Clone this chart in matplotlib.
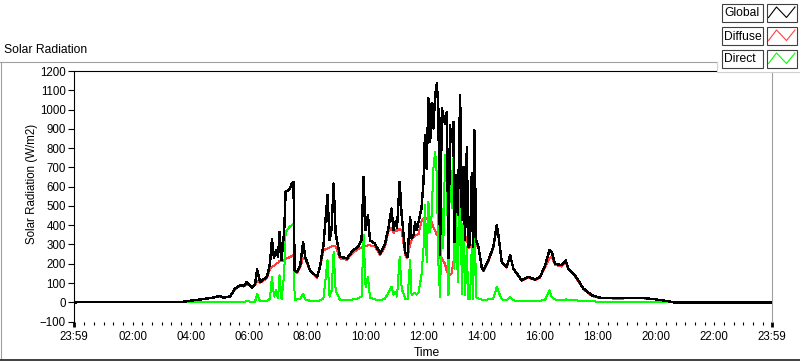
import numpy as np
import matplotlib.pyplot as plt
from matplotlib.patches import Rectangle

plt.rcParams['font.family'] = ['Liberation Sans', 'DejaVu Sans']

nan = np.nan

# time of day in hours (-1/60 = 23:59 of the day before, 23.983 = 23:59)
hours = [-0.0167, 3.73, 4.32, 4.76, 5.00, 5.11, 5.35, 5.52, 5.69, 5.83, 5.93,
         6.10, 6.21, 6.28, 6.38, 6.62, 6.72, 6.79, 6.86, 6.93, 7.00, 7.05,
         7.12, 7.21, 7.26, 7.34, 7.41, 7.48, 7.53, 7.57, 7.65, 7.76, 7.86,
         7.93, 8.10, 8.34, 8.44, 8.56, 8.70, 8.77, 8.84, 8.91, 8.98, 9.13,
         9.37, 9.58, 9.75, 9.87, 9.94, 10.01, 10.09, 10.16, 10.33, 10.51,
         10.68, 10.80, 10.90, 10.97, 11.04, 11.09, 11.18, 11.25, 11.37, 11.45,
         11.54, 11.59, 11.66, 11.71, 11.76, 11.83, 11.93, 12.00, 12.05, 12.11,
         12.17, 12.23, 12.28, 12.34, 12.40, 12.46, 12.51, 12.57, 12.63, 12.68,
         12.74, 12.80, 12.86, 12.91, 12.97, 13.03, 13.06, 13.12, 13.18, 13.26,
         13.32, 13.37, 13.43, 13.49, 13.54, 13.60, 13.66, 13.71, 13.75, 13.81,
         13.89, 14.00, 14.06, 14.23, 14.40, 14.52, 14.57, 14.69, 14.86, 14.98,
         15.09, 15.38, 15.61, 15.84, 16.01, 16.18, 16.33, 16.41, 16.52, 16.75,
         16.89, 16.98, 17.21, 17.50, 17.79, 18.07, 18.65, 19.45, 19.90, 20.37,
         20.59, 23.983]

global_rad = [0, 3, 15, 24, 33, 24, 31, 71, 88, 86, 106,
              76, 95, 170, 106, 132, 201, 327, 230, 270, 235, 365,
              218, 370, 573, 580, 590, 618, 624, 166, 158, 192, 313,
              236, 166, 132, 184, 296, 556, 322, 380, 616, 357, 236,
              228, 270, 287, 322, 651, 374, 452, 322, 305, 253,
              305, 391, 487, 374, 420, 385, 625, 452, 261, 235,
              443, 331, 348, 417, 374, 417, 487, 625, 868, 694,
              1058, 833, 1032, 902, 1075, 1136, 1006, 244, 1006, 971,
              928, 988, 228, 919, 833, 937, 313, 660, 452, 1075,
              426, 703, 322, 807, 287, 305, 668, 287, 893, 322,
              287, 184, 166, 218, 287, 400, 357, 209, 184, 244,
              175, 114, 132, 118, 132, 192, 270, 261, 201, 192,
              218, 175, 140, 71, 36, 24, 21, 24, 17, 7,
              0, 0]

diffuse_rad = [nan, 3, 14, 23, 30, 23, 30, 68, 85, 82, 98,
               75, 90, 110, 100, 125, 170, 185, 190, 200, 205, 215,
               212, 220, 225, 230, 235, 240, 245, 160, 152, 180, 230,
               225, 162, 128, 178, 270, 280, 285, 290, 295, 290, 228,
               220, 260, 275, 285, 295, 290, 295, 295, 290, 245,
               290, 370, 385, 360, 375, 372, 380, 375, 244, 230,
               300, 320, 340, 345, 348, 355, 420, 435, 430, 440,
               440, 420, 417, 390, 370, 350, 348, 228, 230, 215,
               200, 160, 150, 140, 150, 212, 230, 250, 265, 357,
               350, 340, 320, 340, 280, 290, 300, 275, 290, 300,
               280, 180, 162, 212, 280, 383, 350, 205, 180, 238,
               172, 112, 128, 115, 128, 182, 227, 235, 195, 185,
               209, 170, 135, 68, 33, 22, 19, 22, 16, 6,
               0, nan]

direct_rad = [nan, 0, 1, 2, 2, 1, 2, 3, 3, 3, 6,
              3, 4, 45, 5, 6, 20, 132, 30, 62, 20, 140,
              15, 150, 365, 380, 395, 400, 408, 10, 15, 18, 45,
              15, 8, 8, 10, 20, 218, 30, 60, 260, 60, 12,
              10, 15, 20, 30, 350, 80, 132, 25, 15, 10,
              20, 50, 80, 40, 55, 30, 235, 71, 19, 15,
              218, 36, 45, 50, 40, 50, 140, 279, 504, 210,
              521, 365, 452, 694, 781, 660, 210, 28, 487, 279,
              764, 764, 36, 772, 487, 746, 175, 487, 106, 760,
              45, 405, 36, 287, 19, 19, 287, 15, 513, 25,
              19, 15, 12, 15, 20, 80, 60, 15, 12, 28,
              10, 7, 7, 7, 8, 12, 62, 28, 15, 12,
              15, 12, 10, 7, 5, 3, 2, 2, 2, 1,
              0, nan]

series_names = ['Global', 'Diffuse', 'Direct']
series_colors = ['#000000', '#ff4040', '#00ff00']

tick_hours = [-1 / 60, 2, 4, 6, 8, 10, 12, 14, 16, 18, 20, 22, 23 + 59 / 60]
tick_labels = ['23:59', '02:00', '04:00', '06:00', '08:00', '10:00', '12:00',
               '14:00', '16:00', '18:00', '20:00', '22:00', '23:59']

W, H = 800, 361
fig = plt.figure(figsize=(W / 100, H / 100), dpi=100)
fig.patch.set_facecolor('white')

ax = fig.add_axes([74 / W, (H - 321.6) / H, (772 - 74) / W, 250.6 / H])
ax.plot(hours, diffuse_rad, color=series_colors[1], lw=0.72, zorder=2, antialiased=False)
ax.plot(hours, direct_rad, color=series_colors[2], lw=0.72, zorder=3, antialiased=False)
ax.plot(hours, global_rad, color=series_colors[0], lw=1.0, zorder=4, antialiased=False)

ax.set_xlim(-1 / 60, 23 + 59 / 60)
ax.set_ylim(-100, 1200)
ax.set_yticks(np.arange(-100, 1201, 100))
ax.set_xticks(tick_hours)
ax.set_xticklabels(tick_labels)
minor = [m for m in np.arange(0, 24, 1 / 3) if min(abs(m - t) for t in tick_hours) > 0.05]
ax.set_xticks(minor, minor=True)

ax.tick_params(axis='y', direction='out', length=4.3, width=0.8, pad=1.5, labelsize=8.3)
ax.tick_params(axis='x', which='major', direction='out', length=2.5, width=0.8, pad=4, labelsize=8.3)
ax.tick_params(axis='x', which='minor', direction='out', length=2.5, width=0.8)
for t in (ax.xaxis.get_major_ticks()[0], ax.xaxis.get_major_ticks()[-1]):
    t.tick1line.set_markeredgewidth(2)
    t.tick1line.set_markersize(3.5)

ax.spines['left'].set_color('black')
ax.spines['top'].set_color('black')
ax.spines['right'].set_color('#a0a0a0')
ax.spines['bottom'].set_visible(False)
for s in ax.spines.values():
    s.set_linewidth(0.8)

fig.text(32 / W, 1 - 184 / H, 'Solar Radiation (W/m2)', rotation=90,
         ha='center', va='center', fontsize=8.3)
fig.text(427 / W, 1 - 353 / H, 'Time', ha='center', va='center', fontsize=8.7)
fig.text(4 / W, 1 - 50 / H, 'Solar Radiation', ha='left', va='center', fontsize=8.7)

# frame and legend drawn in pixel coordinates
ov = fig.add_axes([0, 0, 1, 1], zorder=10)
ov.set_xlim(0, W)
ov.set_ylim(H, 0)
ov.axis('off')
ov.patch.set_alpha(0)
ov.plot([0, 717], [62, 62], color='#a0a0a0', lw=0.8)
ov.plot([0.5, 0.5], [62, 359], color='#a0a0a0', lw=0.8)
ov.plot([0, W], [359.5, 359.5], color='#202020', lw=1.2)
ov.add_patch(Rectangle((717, 0), 83, 72, facecolor='white', edgecolor='none'))
ov.plot([717, 717, 800], [62, 72, 72], color='#d0d0d0', lw=0.8)

rows = [(4, 22), (27, 45), (50, 68)]
for (y0, y1), name, col in zip(rows, series_names, series_colors):
    ov.add_patch(Rectangle((721.5, y0), 41.5, y1 - y0, facecolor='white',
                           edgecolor='#404040', lw=0.8))
    ov.text(724, (y0 + y1) / 2 + 0.5, name, ha='left', va='center', fontsize=8.7)
    ov.add_patch(Rectangle((766.5, y0), 30, y1 - y0, facecolor='white',
                           edgecolor='#404040', lw=0.8))
    ov.plot([768.5, 776.5, 786.5, 795], [y1 - 4.5, y0 + 3, y1 - 4.5, y0 + 3],
            color=col, lw=0.8)

fig.savefig('out.png', dpi=100)
